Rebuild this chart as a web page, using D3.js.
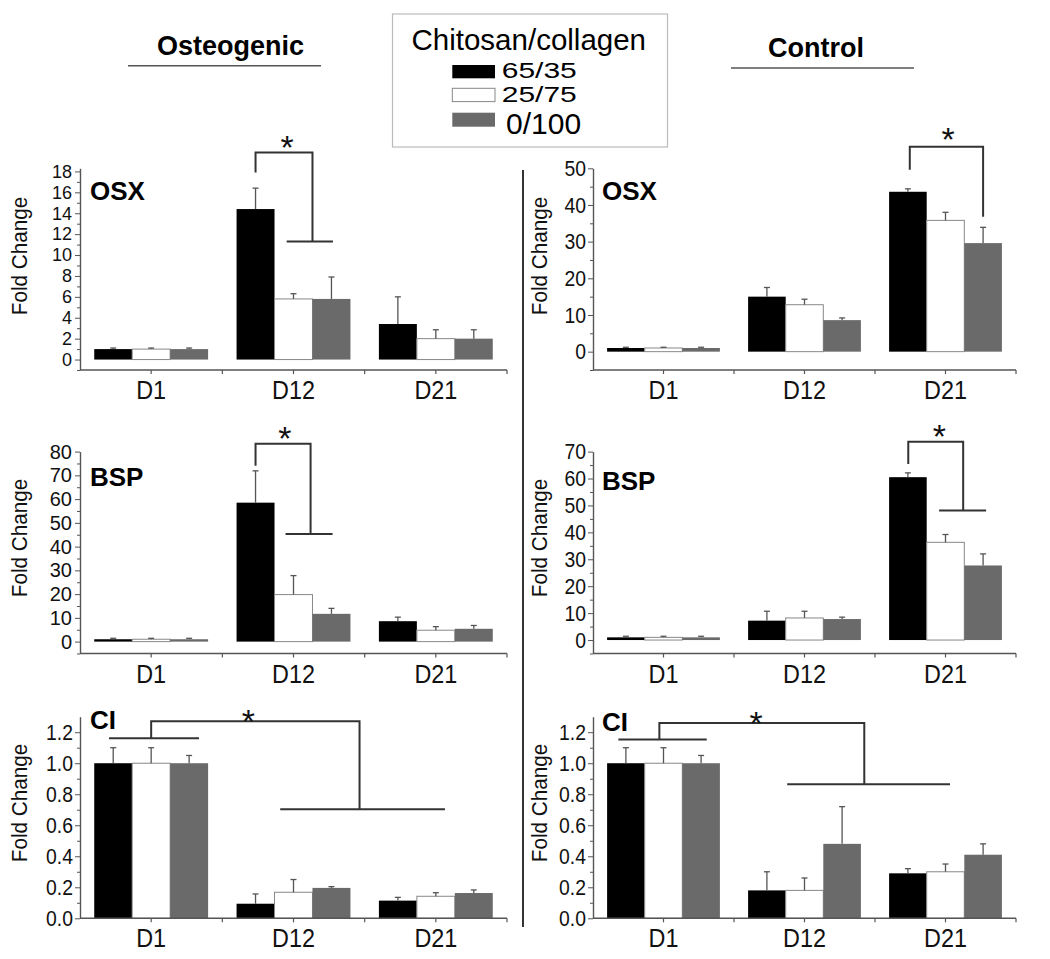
<!DOCTYPE html>
<html>
<head>
<meta charset="utf-8">
<script src="https://cdn.jsdelivr.net/npm/d3@7/dist/d3.min.js"></script>
<style>
  body { margin: 0; background: #fff; }
  svg { display: block; font-family: "Liberation Sans", Arial, sans-serif; }
</style>
</head>
<body>
<div id="chart"></div>
<script>
const days = ["D1", "D12", "D21"];
const ratios = ["65/35", "25/75", "0/100"];
const ratioFills = ["#000000", "#ffffff", "#6a6a6a"];

// fold change, one row per day, one column per chitosan/collagen ratio
const osxOsteoMean = [[1.0, 1.0, 1.0], [14.4, 5.8, 5.8], [3.4, 2.0, 2.0]];
const osxOsteoErr  = [[0.1, 0.1, 0.1], [2.0, 0.5, 2.1], [2.6, 0.85, 0.85]];
const osxCtrlMean  = [[1.0, 1.0, 1.0], [15.0, 12.8, 8.6], [43.6, 35.8, 29.6]];
const osxCtrlErr   = [[0.2, 0.2, 0.2], [2.5, 1.5, 0.6], [0.8, 2.2, 4.3]];
const bspOsteoMean = [[1.0, 1.0, 1.0], [58.5, 19.8, 11.7], [8.6, 4.8, 5.4]];
const bspOsteoErr  = [[0.4, 0.4, 0.4], [13.4, 8.0, 2.3], [1.7, 1.5, 1.4]];
const bspCtrlMean  = [[1.0, 1.0, 1.0], [7.2, 8.2, 7.8], [60.5, 36.3, 27.7]];
const bspCtrlErr   = [[0.4, 0.4, 0.4], [3.5, 2.5, 0.7], [1.6, 2.9, 4.3]];
const ciOsteoMean  = [[1.0, 1.0, 1.0], [0.094, 0.168, 0.196], [0.114, 0.142, 0.163]];
const ciOsteoErr   = [[0.10, 0.10, 0.05], [0.063, 0.082, 0.008], [0.021, 0.023, 0.02]];
const ciCtrlMean   = [[1.0, 1.0, 1.0], [0.18, 0.18, 0.48], [0.29, 0.30, 0.41]];
const ciCtrlErr    = [[0.10, 0.10, 0.05], [0.12, 0.08, 0.24], [0.03, 0.05, 0.07]];

// tick labels
const osxOsteoTicks = [0, 2, 4, 6, 8, 10, 12, 14, 16, 18];
const osxCtrlTicks  = [0, 10, 20, 30, 40, 50];
const bspOsteoTicks = [0, 10, 20, 30, 40, 50, 60, 70, 80];
const bspCtrlTicks  = [0, 10, 20, 30, 40, 50, 60, 70];
const ciTicks       = [0, 0.2, 0.4, 0.6, 0.8, 1.0, 1.2];

// significance brackets: points as [day, position inside the day group (0..3), value]
const osxOsteoSig = [[[1, 0.5, 17.9], [1, 0.5, 19.8], [1, 2, 19.8], [1, 2, 11.3]], [[1, 1.32, 11.3], [1, 2.54, 11.3]]];
const osxOsteoStar = [1, 1.33, 21.0];
const osxCtrlSig = [[[2, 0.55, 49.6], [2, 0.55, 55.9], [2, 2.5, 55.9], [2, 2.5, 36.8]]];
const osxCtrlStar = [2, 1.57, 59.9];
const bspOsteoSig = [[[1, 0.5, 74.0], [1, 0.5, 83.3], [1, 1.95, 83.3], [1, 1.95, 45.3]], [[1, 1.29, 45.3], [1, 2.53, 45.3]]];
const bspOsteoStar = [1, 1.27, 88.7];
const bspCtrlSig = [[[2, 0.51, 65.4], [2, 0.51, 73.7], [2, 1.97, 73.7], [2, 1.97, 48.1]], [[2, 1.33, 48.1], [2, 2.58, 48.1]]];
const bspCtrlStar = [2, 1.34, 78.4];
const ciOsteoSig = [[[0, 0.39, 1.161], [0, 2.76, 1.161]], [[0, 1.5, 1.161], [0, 1.5, 1.271], [1, 3.24, 1.271], [1, 3.24, 0.703]], [[1, 1.15, 0.703], [2, 1.74, 0.703]]];
const ciOsteoStar = [1, 0.31, 1.318];
const ciCtrlSig = [[[0, 0.30, 1.153], [0, 2.65, 1.153]], [[0, 1.39, 1.153], [0, 1.39, 1.26], [1, 3.09, 1.26], [1, 3.09, 0.864]], [[1, 1.04, 0.864], [2, 1.62, 0.864]]];
const ciCtrlStar = [1, 0.21, 1.304];

const panels = [
  { gene: "OSX", col: 0, row: 0, mean: osxOsteoMean, err: osxOsteoErr, domain: [-1, 18.3], ticks: osxOsteoTicks, fmt: d3.format("d"), sig: osxOsteoSig, star: osxOsteoStar },
  { gene: "OSX", col: 1, row: 0, mean: osxCtrlMean, err: osxCtrlErr, domain: [-5, 50], ticks: osxCtrlTicks, fmt: d3.format("d"), sig: osxCtrlSig, star: osxCtrlStar },
  { gene: "BSP", col: 0, row: 1, mean: bspOsteoMean, err: bspOsteoErr, domain: [-5, 80], ticks: bspOsteoTicks, fmt: d3.format("d"), sig: bspOsteoSig, star: bspOsteoStar },
  { gene: "BSP", col: 1, row: 1, mean: bspCtrlMean, err: bspCtrlErr, domain: [-5, 70], ticks: bspCtrlTicks, fmt: d3.format("d"), sig: bspCtrlSig, star: bspCtrlStar },
  { gene: "CI", col: 0, row: 2, mean: ciOsteoMean, err: ciOsteoErr, domain: [0, 1.3], ticks: ciTicks, fmt: d3.format(".1f"), sig: ciOsteoSig, star: ciOsteoStar },
  { gene: "CI", col: 1, row: 2, mean: ciCtrlMean, err: ciCtrlErr, domain: [0, 1.3], ticks: ciTicks, fmt: d3.format(".1f"), sig: ciCtrlSig, star: ciCtrlStar }
];

const width = 1050;
const height = 959;

const cols = [
  { band: [80, 507], labelX: 27, geneX: 90 },
  { band: [593, 1016], labelX: 547, geneX: 602 }
];
const rows = [
  { y: [370, 168.3], labelY: 256, geneY: [200, 200] },
  { y: [653.5, 451.6], labelY: 538, geneY: [486, 490] },
  { y: [918.3, 716.7], labelY: 803, geneY: [729, 731] }
];

const svg = d3.select("#chart")
  .append("svg")
  .attr("width", width)
  .attr("height", height);

const axisColor = "#555";

panels.forEach(p => {
  const c = cols[p.col];
  const r = rows[p.row];
  const g = svg.append("g");

  const x = d3.scaleBand().domain(days).range(c.band).paddingInner(0.2).paddingOuter(0.1);
  const xs = d3.scaleBand().domain(ratios).range([0, x.bandwidth()]);
  const y = d3.scaleLinear().domain(p.domain).range(r.y);
  const axisX = c.band[0];
  const baseY = y(p.domain[0]);
  const zeroY = y(Math.max(0, p.domain[0]));

  // position inside a day group, in bar widths
  const px = (d, s) => x(days[d]) + s * xs.bandwidth();

  // minor ticks half way between the labelled ones
  const minor = [];
  p.ticks.forEach((t, i) => {
    if (i > 0) minor.push((t + p.ticks[i - 1]) / 2);
  });
  const step = p.ticks[1] - p.ticks[0];
  if (p.domain[0] <= -step / 2) minor.push(-step / 2);

  // labels are packed tight on the crowded axes, keep them from touching
  const tickGap = y(p.ticks[0]) - y(p.ticks[1]);
  const tickFont = Math.min(22, Math.floor(tickGap / 1.16));

  const bars = days.flatMap((day, di) => ratios.map((rt, si) => ({
    day, ratio: rt, si, v: p.mean[di][si], e: p.err[di][si]
  })));

  g.selectAll("rect.bar")
    .data(bars)
    .join("rect")
    .attr("class", "bar")
    .attr("x", d => x(d.day) + xs(d.ratio))
    .attr("width", xs.bandwidth())
    .attr("y", d => y(d.v))
    .attr("height", d => zeroY - y(d.v))
    .attr("fill", d => ratioFills[d.si])
    .attr("stroke", d => d.si === 1 ? "#888" : "none")
    .attr("stroke-width", 1);

  // error bars (upper half only)
  const eb = g.selectAll("g.err")
    .data(bars)
    .join("g")
    .attr("class", "err")
    .attr("stroke", "#555")
    .attr("stroke-width", 1.3);
  eb.append("line")
    .attr("x1", d => x(d.day) + xs(d.ratio) + xs.bandwidth() / 2)
    .attr("x2", d => x(d.day) + xs(d.ratio) + xs.bandwidth() / 2)
    .attr("y1", d => y(d.v))
    .attr("y2", d => y(d.v + d.e));
  eb.append("line")
    .attr("x1", d => x(d.day) + xs(d.ratio) + xs.bandwidth() / 2 - 3)
    .attr("x2", d => x(d.day) + xs(d.ratio) + xs.bandwidth() / 2 + 3)
    .attr("y1", d => y(d.v + d.e))
    .attr("y2", d => y(d.v + d.e));

  // y axis
  const yAxis = g.append("g")
    .attr("transform", `translate(${axisX},0)`)
    .call(d3.axisLeft(y).tickValues(p.ticks).tickFormat(p.fmt).tickSize(5).tickSizeOuter(0).tickPadding(3));
  g.append("g")
    .attr("transform", `translate(${axisX},0)`)
    .call(d3.axisLeft(y).tickValues(minor).tickFormat("").tickSize(3).tickSizeOuter(0))
    .select(".domain").remove();
  yAxis.selectAll("text")
    .attr("font-size", tickFont)
    .attr("font-family", "Liberation Sans, Arial, sans-serif")
    .attr("transform", tickFont < 22 ? null : "scale(0.88,1)")
    .attr("fill", "#111");

  // x axis
  g.append("line")
    .attr("x1", axisX).attr("x2", c.band[1])
    .attr("y1", baseY).attr("y2", baseY)
    .attr("stroke", axisColor).attr("stroke-width", 1.4);
  const xTicks = days.map(d => x(d) + x.bandwidth() / 2)
    .concat(days.map((d, i) => c.band[0] + (i + 1) * x.step()));
  g.selectAll("line.xtick")
    .data(xTicks)
    .join("line")
    .attr("class", "xtick")
    .attr("x1", d => d).attr("x2", d => d)
    .attr("y1", baseY).attr("y2", baseY + 4)
    .attr("stroke", axisColor).attr("stroke-width", 1.2);
  g.selectAll("text.xlab")
    .data(days)
    .join("text")
    .attr("class", "xlab")
    .attr("transform", d => `translate(${x(d) + x.bandwidth() / 2},${baseY + 29}) scale(0.9,1)`)
    .attr("text-anchor", "middle")
    .attr("font-size", 26)
    .attr("fill", "#111")
    .text(d => d);

  yAxis.select(".domain").attr("stroke", axisColor).attr("stroke-width", 1.4);
  g.selectAll(".tick line").attr("stroke", axisColor);

  // y title and gene name
  g.append("text")
    .attr("transform", `translate(${c.labelX},${r.labelY}) rotate(-90) scale(0.94,1)`)
    .attr("text-anchor", "middle")
    .attr("font-size", 22)
    .attr("fill", "#111")
    .text("Fold Change");
  g.append("text")
    .attr("x", c.geneX)
    .attr("y", r.geneY[p.col])
    .attr("font-size", 26)
    .attr("font-weight", "bold")
    .attr("fill", "#000")
    .text(p.gene);

  // significance bracket
  const line = d3.line().x(d => px(d[0], d[1])).y(d => y(d[2]));
  g.selectAll("path.sig")
    .data(p.sig)
    .join("path")
    .attr("class", "sig")
    .attr("d", line)
    .attr("fill", "none")
    .attr("stroke", "#333")
    .attr("stroke-width", 2);
  g.append("text")
    .attr("x", px(p.star[0], p.star[1]))
    .attr("y", y(p.star[2]) + 19)
    .attr("text-anchor", "middle")
    .attr("font-size", 34)
    .attr("fill", "#111")
    .text("*");
});

// divider between the two conditions
svg.append("line")
  .attr("x1", 523).attr("x2", 523)
  .attr("y1", 170).attr("y2", 927)
  .attr("stroke", "#333").attr("stroke-width", 2);

// column headers
const headers = [
  { text: "Osteogenic", x: 230.5, y: 54.5, u: [128, 321], uy: 65.7 },
  { text: "Control", x: 816, y: 56.7, u: [731, 914], uy: 68 }
];
headers.forEach(h => {
  svg.append("text")
    .attr("x", h.x).attr("y", h.y)
    .attr("text-anchor", "middle")
    .attr("font-size", 27)
    .attr("font-weight", "bold")
    .text(h.text);
  svg.append("line")
    .attr("x1", h.u[0]).attr("x2", h.u[1])
    .attr("y1", h.uy).attr("y2", h.uy)
    .attr("stroke", "#555").attr("stroke-width", 1.6);
});

// legend
const legend = svg.append("g");
legend.append("rect")
  .attr("x", 392.5).attr("y", 14)
  .attr("width", 275).attr("height", 133)
  .attr("fill", "none").attr("stroke", "#bbb").attr("stroke-width", 1.2);
legend.append("text")
  .attr("x", 411.5).attr("y", 50)
  .attr("font-size", 29.5)
  .attr("fill", "#000")
  .text("Chitosan/collagen");
const legendRows = [
  { y: 65, h: 13.3, ty: 77.5, tx: 501.7, sy: 0.74 },
  { y: 88.3, h: 13.3, ty: 101.5, tx: 501.7, sy: 0.74 },
  { y: 112.7, h: 14, ty: 133.5, tx: 506, sy: 1 }
];
legend.selectAll("rect.sw")
  .data(ratios)
  .join("rect")
  .attr("class", "sw")
  .attr("x", 452.3)
  .attr("y", (d, i) => legendRows[i].y)
  .attr("width", 42.7)
  .attr("height", (d, i) => legendRows[i].h)
  .attr("fill", (d, i) => ratioFills[i])
  .attr("stroke", (d, i) => i === 1 ? "#888" : "none");
legend.selectAll("text.lab")
  .data(ratios)
  .join("text")
  .attr("class", "lab")
  .attr("transform", (d, i) => `translate(${legendRows[i].tx},${legendRows[i].ty}) scale(1,${legendRows[i].sy})`)
  .attr("font-size", 30)
  .attr("fill", "#000")
  .text(d => d);
</script>
</body>
</html>
